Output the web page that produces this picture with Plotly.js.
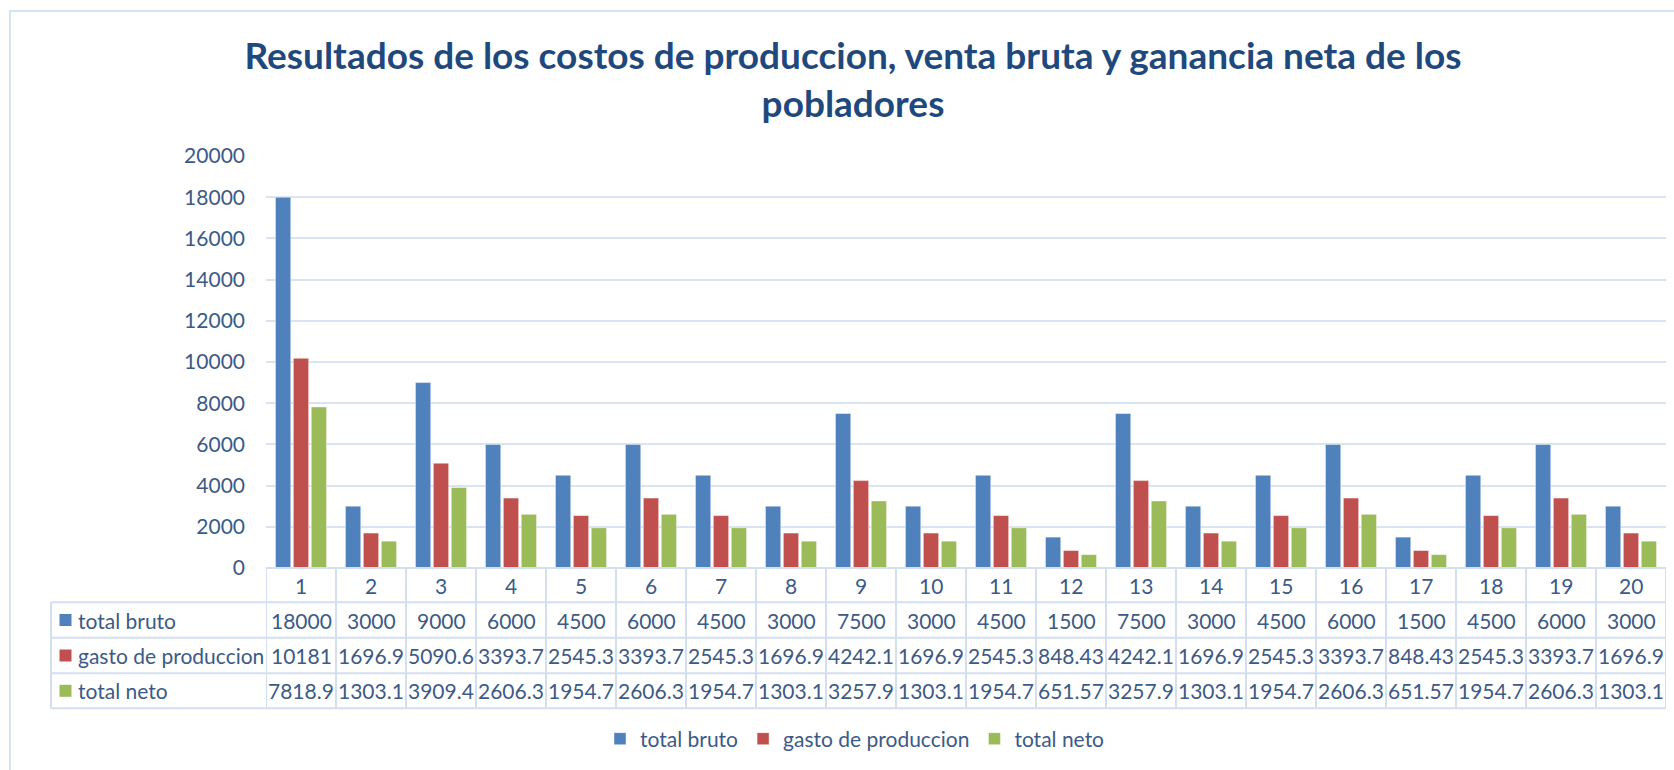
<!DOCTYPE html>
<html><head><meta charset="utf-8">
<script src="https://cdn.plot.ly/plotly-3.0.1.min.js"></script>
<style>html,body{margin:0;padding:0;background:#fff;overflow:hidden;} #chart{width:1674px;height:770px;}</style>
</head><body><div id="chart"></div>
<script>
const categories = ['1','2','3','4','5','6','7','8','9','10','11','12','13','14','15','16','17','18','19','20'];
const totalBruto = [18000,3000,9000,6000,4500,6000,4500,3000,7500,3000,4500,1500,7500,3000,4500,6000,1500,4500,6000,3000];
const gastoProduccion = [10181,1696.9,5090.6,3393.7,2545.3,3393.7,2545.3,1696.9,4242.1,1696.9,2545.3,848.43,4242.1,1696.9,2545.3,3393.7,848.43,2545.3,3393.7,1696.9];
const totalNeto = [7818.9,1303.1,3909.4,2606.3,1954.7,2606.3,1954.7,1303.1,3257.9,1303.1,1954.7,651.57,3257.9,1303.1,1954.7,2606.3,651.57,1954.7,2606.3,1303.1];
const seriesNames = ['total bruto','gasto de produccion','total neto'];
const seriesColors = ['#4F81BD','#C0504D','#9BBB59'];
const yTicks = [0,2000,4000,6000,8000,10000,12000,14000,16000,18000,20000];
const titleText = 'Resultados de los costos de produccion, venta bruta y ganancia neta de los<br>pobladores';

const W = 1674, H = 770;
const M = {l:266, r:8, t:156, b:202};
const PW = W - M.l - M.r, PH = H - M.t - M.b;
const px = x => (x - M.l) / PW;
const py = y => (H - M.b - y) / PH;

const FONT = 'Lato, "Open Sans", sans-serif';
const FS = 21;
const TXT = '#3C5A87';
const LINE = '#D3DFEF';

const seriesValues = [totalBruto, gastoProduccion, totalNeto];
const traces = seriesValues.map((vals, i) => ({
  type: 'bar', name: seriesNames[i], x: categories, y: vals,
  marker: {color: seriesColors[i], line: {color: 'rgba(255,255,255,0.45)', width: 1}},
  hoverinfo: 'x+y+name'
}));

const shapes = [];
const annotations = [];
// chart frame
shapes.push({type:'rect', xref:'paper', yref:'paper', x0:px(10), x1:px(1690), y0:py(11), y1:py(790),
  line:{color:'#D5E2F2', width:2}, fillcolor:'rgba(0,0,0,0)', layer:'below'});
// data table lines
const rowY = [568, 602.3, 637.7, 673.3, 708.3];
shapes.push({type:'line', xref:'paper', yref:'paper', x0:px(266), x1:px(1666), y0:py(rowY[0]), y1:py(rowY[0]), line:{color:LINE, width:2}});
for (let r = 1; r < rowY.length; r++) {
  shapes.push({type:'line', xref:'paper', yref:'paper', x0:px(51), x1:px(1666), y0:py(rowY[r]), y1:py(rowY[r]), line:{color:LINE, width:2}});
}
shapes.push({type:'line', xref:'paper', yref:'paper', x0:px(51), x1:px(51), y0:py(rowY[1]), y1:py(rowY[4]), line:{color:LINE, width:2}});
for (let k = 0; k <= categories.length; k++) {
  shapes.push({type:'line', xref:'x', yref:'paper', x0:k-0.5, x1:k-0.5, y0:py(rowY[0]), y1:py(rowY[4]), line:{color:LINE, width:2}});
}
// category row
const catCenter = (rowY[0] + rowY[1]) / 2;
categories.forEach((c, i) => {
  annotations.push({xref:'x', yref:'paper', x:i, y:py(catCenter), text:c, showarrow:false,
    xanchor:'center', yanchor:'middle', font:{family:FONT, size:FS, color:TXT}});
});
// data rows
seriesValues.forEach((vals, r) => {
  const cy = (rowY[r+1] + rowY[r+2]) / 2;
  shapes.push({type:'rect', xref:'paper', yref:'paper', x0:px(59.5), x1:px(71.5), y0:py(cy-6), y1:py(cy+6),
    line:{width:0}, fillcolor:seriesColors[r]});
  annotations.push({xref:'paper', yref:'paper', x:px(76), y:py(cy), text:seriesNames[r], showarrow:false,
    xanchor:'left', yanchor:'middle', font:{family:FONT, size:FS, color:TXT}});
  vals.forEach((v, i) => {
    annotations.push({xref:'x', yref:'paper', x:i, y:py(cy), text:String(v), showarrow:false,
      xanchor:'center', yanchor:'middle', font:{family:FONT, size:FS, color:TXT}});
  });
});

const layout = {
  width: W, height: H, margin: M,
  paper_bgcolor: '#ffffff', plot_bgcolor: '#ffffff',
  font: {family: FONT, color: TXT, size: FS},
  title: {text: titleText, x: 853/W, xref: 'container', xanchor: 'center',
    y: 1 - 69/H, yref: 'container', yanchor: 'middle',
    font: {family: FONT, size: 37, weight: 'bold', color: '#1F497D'}},
  barmode: 'group', bargap: 0.233, bargroupgap: 0.145,
  xaxis: {type: 'category', range: [-0.5, categories.length - 0.5], showticklabels: false,
    showgrid: false, zeroline: false, showline: false, ticks: '', fixedrange: true},
  yaxis: {range: [0, 20000], tickvals: yTicks, ticktext: yTicks.map(String),
    tickfont: {family: FONT, size: FS, color: TXT}, ticks: '', ticklabelstandoff: 20,
    showgrid: true, gridcolor: '#D9E4F3', gridwidth: 2, zeroline: false, showline: false, fixedrange: true},
  legend: {orientation: 'h', xref: 'container', x: 855/W, xanchor: 'center',
    yref: 'container', y: 1 - 739/H, yanchor: 'middle',
    font: {family: FONT, size: FS, color: TXT}, itemwidth: 30, traceorder: 'normal'},
  shapes: shapes, annotations: annotations
};

Plotly.newPlot('chart', traces, layout, {displayModeBar: false, staticPlot: true});
</script>
</body></html>
